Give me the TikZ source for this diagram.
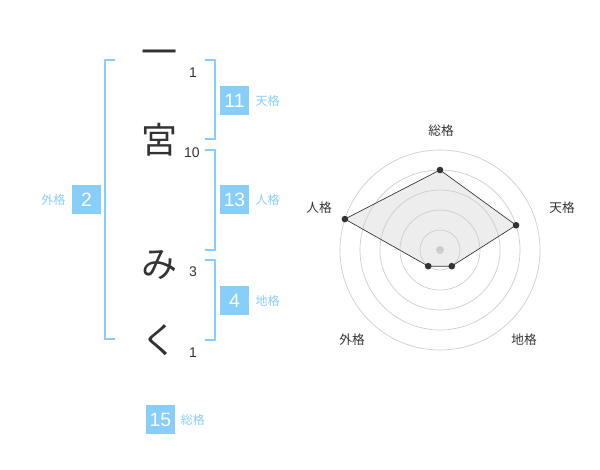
\documentclass[tikz,border=0pt]{standalone}
\usepackage{fontspec}
\setmainfont{Liberation Sans}
\newfontfamily\jp{Noto Sans CJK JP}
\usetikzlibrary{calc}

\definecolor{kaku}{RGB}{136,206,250}
\definecolor{ink}{RGB}{51,51,51}

\tikzset{
  bracket/.style={draw=kaku, line width=1.5pt},
  moji/.style={font=\jp\fontsize{27}{27}\selectfont, text=ink, inner sep=0pt},
  kakusu/.style={font=\fontsize{10.5}{10.5}\selectfont, text=ink, inner sep=0pt},
  numbox/.style={fill=kaku, text=white, minimum size=21.75pt, inner sep=0pt,
    font=\fontsize{14.5}{14.5}\selectfont},
  kakuname/.style={text=kaku, font=\jp\fontsize{9}{9}\selectfont, inner sep=0pt},
  radarname/.style={text=ink, font=\jp\fontsize{9.5}{9.5}\selectfont, inner sep=0pt},
  ring/.style={draw=black!20, line width=0.5pt},
  dot/.style={fill=ink}
}

\begin{document}
\begin{tikzpicture}[x=0.75pt,y=0.75pt]
        \useasboundingbox (0,0) rectangle (600,470);

        % name characters and stroke counts
        \node[moji] (c1) at (159,412) {一};
        \node[moji] (c2) at (159,330) {宮};
        \node[moji] (c3) at (159,205) {み};
        \node[moji] (c4) at (159,130) {く};
        \node[kakusu] (s1) at (193,397) {1};
        \node[kakusu] (s2) at (192,317) {10};
        \node[kakusu] (s3) at (193,198) {3};
        \node[kakusu] (s4) at (193,117) {1};

        % brackets
        \draw[bracket] (115,410) -- (105,410) -- (105,131) -- (115,131);
        \draw[bracket] (205,410) -- (215,410) -- (215,331) -- (205,331);
        \draw[bracket] (205,320) -- (215,320) -- (215,220) -- (205,220);
        \draw[bracket] (205,210) -- (215,210) -- (215,130) -- (205,130);

        % kaku boxes
        \node[numbox] (ten) at (234.5,369.5) {11};
        \node[kakuname, anchor=west] (ten-l) at ([xshift=4.5pt]ten.east) {天格};
        \node[numbox] (jin) at (234.5,270) {13};
        \node[kakuname, anchor=west] (jin-l) at ([xshift=4.5pt]jin.east) {人格};
        \node[numbox] (gai) at (86.5,270) {2};
        \node[kakuname, anchor=east] (gai-l) at ([xshift=-4.5pt]gai.west) {外格};
        \node[numbox] (chi) at (234.5,169.5) {4};
        \node[kakuname, anchor=west] (chi-l) at ([xshift=4.5pt]chi.east) {地格};
        \node[numbox] (sou) at (160.5,50.5) {15};
        \node[kakuname, anchor=west] (sou-l) at ([xshift=4pt]sou.east) {総格};

        % radar chart
        \coordinate (c) at (440,220);
        \coordinate (r-sou) at ($(c)+(90:80)$);
        \coordinate (r-ten) at ($(c)+(18:80)$);
        \coordinate (r-chi) at ($(c)+(-54:20)$);
        \coordinate (r-gai) at ($(c)+(-126:20)$);
        \coordinate (r-jin) at ($(c)+(162:100)$);

        \fill[black!7] (r-sou) -- (r-ten) -- (r-chi) -- (r-gai) -- (r-jin) -- cycle;
        \foreach \r in {20,40,60,80,100} { \draw[ring] (c) circle (\r); }
        \fill[black!20] (c) circle (4);

        \draw[line width=0.5pt, draw=ink]
          (r-sou) -- (r-ten) -- (r-chi) -- (r-gai) -- (r-jin) -- cycle;
        \foreach \p in {r-sou,r-ten,r-chi,r-gai,r-jin} { \fill[dot] (\p) circle (3.3); }

        \node[radarname] (n-sou) at (441,339) {総格};
        \node[radarname] (n-ten) at (562,262) {天格};
        \node[radarname] (n-jin) at (319,262) {人格};
        \node[radarname] (n-gai) at (352,130) {外格};
        \node[radarname] (n-chi) at (524,130) {地格};

      \end{tikzpicture}
\end{document}
